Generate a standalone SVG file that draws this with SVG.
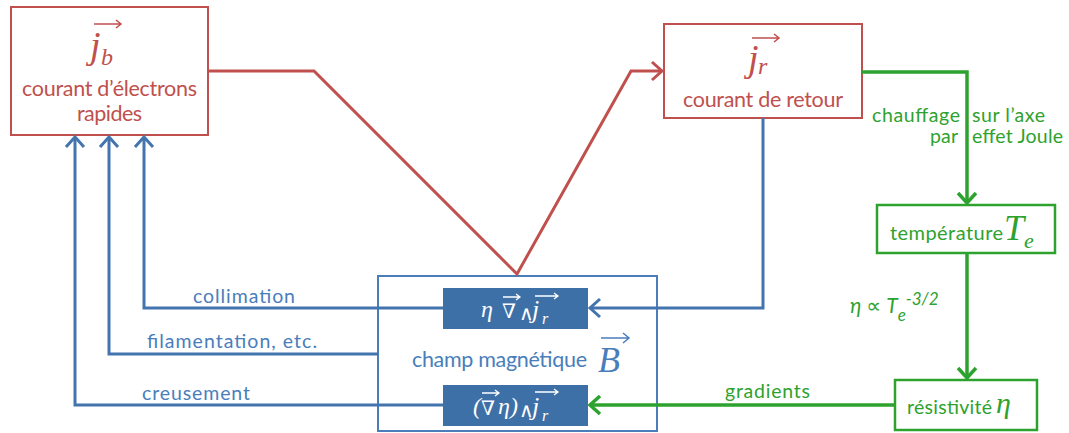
<svg xmlns="http://www.w3.org/2000/svg" width="1069" height="433" viewBox="0 0 1069 433">
<style>
.bg{fill:#ffffff}
.rbox{fill:#ffffff;stroke:#C0504D;stroke-width:2}
.gbox{fill:#ffffff;stroke:#2EA22E;stroke-width:2.5}
.bbox{fill:none;stroke:#4A7EBB;stroke-width:2}
.ibox{fill:#3E70A8;stroke:none}
.sans{font-family:Lato,"Open Sans","Noto Sans","DejaVu Sans",sans-serif}
.math{font-family:"Liberation Serif","DejaVu Serif",serif;font-style:italic}
.red{fill:#C0504D}
.blue{fill:#4A7EBB}
.green{fill:#2EA22E}
.white{fill:#ffffff}
.cr{fill:none;stroke:#C0504D;stroke-width:3;stroke-linejoin:miter}
.cb{fill:none;stroke:#4374AD;stroke-width:3}
.cg{fill:none;stroke:#2EA22E;stroke-width:3.5}
.vr{fill:none;stroke:#C0504D;stroke-width:1.5}
.vb{fill:none;stroke:#4A7EBB;stroke-width:1.5}
.vw{fill:none;stroke:#ffffff;stroke-width:1.3}
</style>
<defs>
<marker id="ar" viewBox="-13 -12 16 24" markerWidth="16" markerHeight="24" refX="0" refY="0" orient="auto" markerUnits="userSpaceOnUse"><path d="M-10,-9 L0,0 L-10,9" fill="none" stroke="#C0504D" stroke-width="3"/></marker>
<marker id="ab" viewBox="-13 -12 16 24" markerWidth="16" markerHeight="24" refX="0" refY="0" orient="auto" markerUnits="userSpaceOnUse"><path d="M-10,-9 L0,0 L-10,9" fill="none" stroke="#4374AD" stroke-width="3"/></marker>
<marker id="ag" viewBox="-13 -12 16 24" markerWidth="16" markerHeight="24" refX="0" refY="0" orient="auto" markerUnits="userSpaceOnUse"><path d="M-10,-9 L0,0 L-10,9" fill="none" stroke="#2EA22E" stroke-width="3.5"/></marker>
</defs>
<rect class="bg" x="0" y="0" width="1069" height="433"/>

<g id="node-jb">
<rect class="rbox" x="11" y="7" width="197" height="128"/>
<path class="vr" d="M94,24 L121,24 M116,20 L121,24 L116,28"/>
<text class="math red" x="90" y="58" font-size="38">j</text>
<text class="math red" x="101" y="65" font-size="24">b</text>
<text class="sans red" x="22" y="96" font-size="21.5" textLength="175">courant d’électrons</text>
<text class="sans red" x="77" y="121" font-size="21.5" textLength="65">rapides</text>
</g>

<g id="node-jr">
<rect class="rbox" x="664" y="24" width="198" height="94"/>
<path class="vr" d="M752,38 L779,38 M774,34 L779,38 L774,42"/>
<text class="math red" x="748" y="71" font-size="38">j</text>
<text class="math red" x="758" y="74" font-size="24">r</text>
<text class="sans red" x="683" y="107" font-size="21.5" textLength="160">courant de retour</text>
</g>

<g id="node-B">
<rect class="bbox" x="378" y="276" width="279" height="155"/>
<text class="sans blue" x="412" y="367" font-size="21.5" textLength="175">champ magnétique</text>
<path class="vb" d="M601,338 L629,338 M623,333 L629,338 L623,343"/>
<text class="math blue" x="598" y="372" font-size="36">B</text>
</g>

<g id="node-curl1">
<rect class="ibox" x="443" y="288" width="145" height="41"/>
<text class="math white" x="481" y="317" font-size="24">η</text>
<text class="white" font-family="'DejaVu Serif',serif" x="502" y="318" font-size="20">∇</text>
<path class="vw" d="M503,297 L520,297 M516,294 L520,297 L516,300"/>
<text class="white" font-family="'DejaVu Sans',sans-serif" x="519" y="320" font-size="20">∧</text>
<text class="math white" x="532" y="318" font-size="26">j</text>
<text class="math white" x="542" y="324" font-size="16">r</text>
<path class="vw" d="M535,296 L558,296 M554,293 L558,296 L554,299"/>
</g>

<g id="node-curl2">
<rect class="ibox" x="443" y="385" width="145" height="41"/>
<text class="math white" x="473" y="414" font-size="24">(</text>
<text class="white" font-family="'DejaVu Serif',serif" x="481" y="415" font-size="20">∇</text>
<path class="vw" d="M482,393 L499,393 M495,390 L499,393 L495,396"/>
<text class="math white" x="498" y="414" font-size="24">η)</text>
<text class="white" font-family="'DejaVu Sans',sans-serif" x="519" y="417" font-size="20">∧</text>
<text class="math white" x="532" y="415" font-size="26">j</text>
<text class="math white" x="542" y="421" font-size="16">r</text>
<path class="vw" d="M535,392 L558,392 M554,389 L558,392 L554,395"/>
</g>

<g id="node-Te">
<rect class="gbox" x="877" y="205" width="178" height="48"/>
<text class="sans green" x="890" y="240" font-size="20" textLength="113">température</text>
<text class="math green" x="1004" y="240" font-size="36">T</text>
<text class="math green" x="1024" y="248" font-size="22">e</text>
</g>

<g id="node-eta">
<rect class="gbox" x="895" y="380" width="142" height="50"/>
<text class="sans green" x="907" y="414" font-size="19.5" textLength="85">résistivité</text>
<text class="math green" x="996" y="413" font-size="30">η</text>
</g>

<g id="connectors">
<polyline class="cr" points="208,71 314,71 517,274 631,71 662,71" marker-end="url(#ar)"/>
<polyline class="cb" points="763,118 763,308 590,308" marker-end="url(#ab)"/>
<polyline class="cb" points="443,308 144,308 144,137" marker-end="url(#ab)"/>
<polyline class="cb" points="378,354 109,354 109,137" marker-end="url(#ab)"/>
<polyline class="cb" points="443,405 75,405 75,137" marker-end="url(#ab)"/>
<polyline class="cg" points="862,72 967,72 967,203" marker-end="url(#ag)"/>
<polyline class="cg" points="967,253 967,378" marker-end="url(#ag)"/>
<polyline class="cg" points="895,405 590,405" marker-end="url(#ag)"/>
<text class="sans blue" x="193" y="303" font-size="19.5" textLength="102">collimation</text>
<text class="sans blue" x="147" y="348" font-size="19.5" textLength="170">filamentation, etc.</text>
<text class="sans blue" x="142" y="400" font-size="19.5" textLength="108">creusement</text>
<text class="sans green" x="872" y="122" font-size="19.5" textLength="88">chauffage</text>
<text class="sans green" x="972" y="122" font-size="19.5" textLength="73">sur l’axe</text>
<text class="sans green" x="930" y="143" font-size="19.5" textLength="28">par</text>
<text class="sans green" x="972" y="143" font-size="19.5" textLength="91">effet Joule</text>
<text class="sans green" x="725" y="398" font-size="19.5" textLength="85">gradients</text>
<text class="sans green" font-size="21" font-style="italic" x="850" y="313">η ∝ T<tspan font-size="17" dy="8">e</tspan><tspan font-size="17" dy="-16">-3/2</tspan></text>
</g>
</svg>
